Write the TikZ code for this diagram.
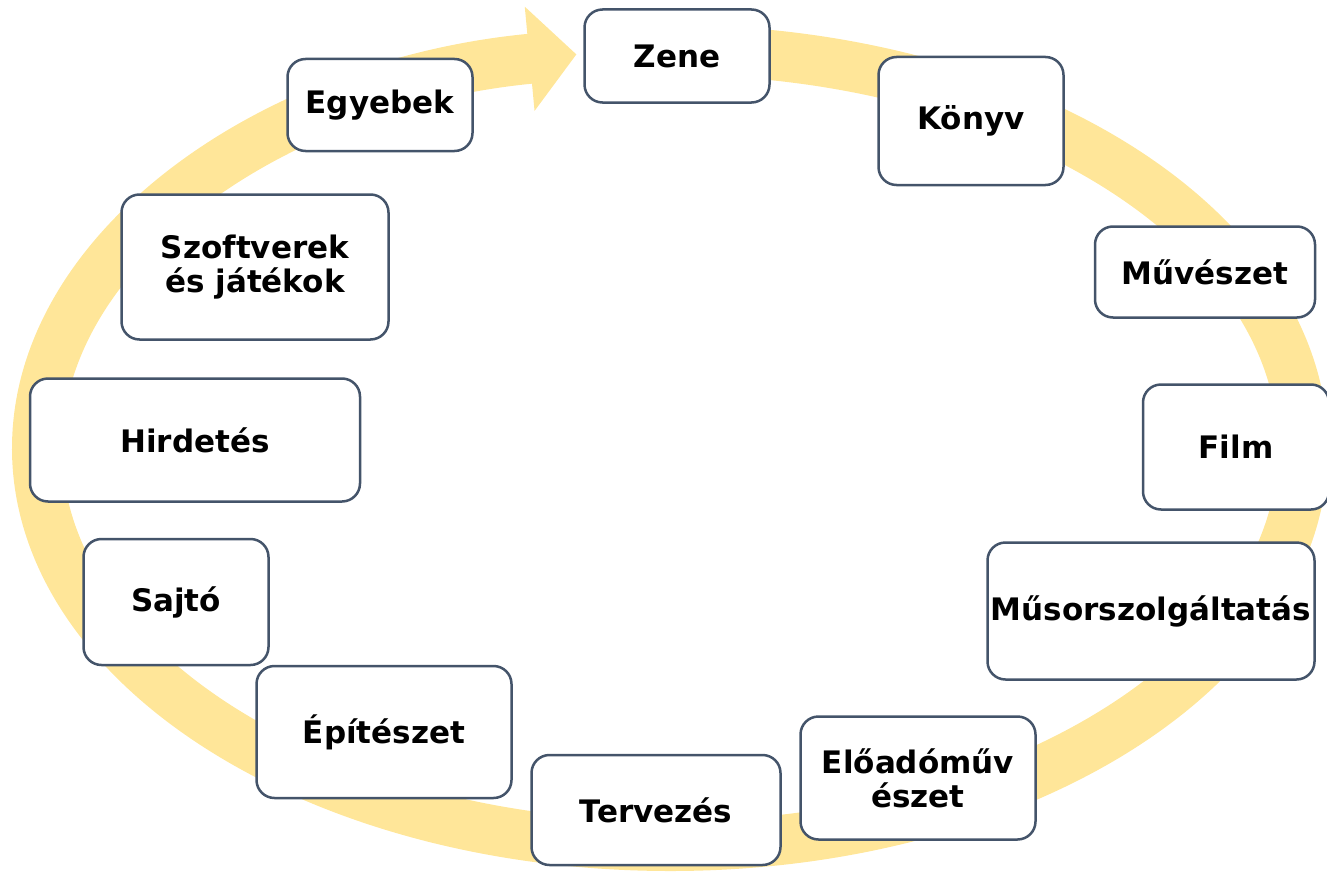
\documentclass[tikz,border=0pt]{standalone}
\usepackage{fontspec}
\setmainfont{DejaVu Sans}
\usetikzlibrary{arrows.meta}

\definecolor{ringyellow}{HTML}{FFE699}
\definecolor{boxline}{HTML}{44546A}

\tikzset{
  tile/.style={draw=boxline, line width=2.5pt, rounded corners=18pt, fill=white,
    inner sep=0pt, align=center, font=\fontsize{31}{34}\selectfont\bfseries},
  ring/.style={draw=ringyellow, line width=50pt},
}

\begin{document}
\begin{tikzpicture}[x=1pt, y=-1pt]

% GLOBAL SETTINGS
\newcommand{\cxring}{670}
\newcommand{\cyring}{448}
\newcommand{\rxring}{633}
\newcommand{\ryring}{398}

\useasboundingbox (0,0) rectangle (1327,875);

% RING
\draw[ring, -{Triangle[length=47pt, width=102pt]}]
  (\cxring,\cyring) ++(-88:\rxring\space and \ryring)
  arc[start angle=-88, end angle=261.5, x radius=\rxring, y radius=\ryring];

% BOXES
\foreach \nm/\cx/\cy/\w/\h/\txt in {
  zene/677/56/185/93/{Zene},
  konyv/971/121/185/128/{Könyv},
  muveszet/1205/272/220/91/{Művészet},
  film/1236/447/186/125/{Film},
  musor/1151/611/327/137/{Műsorszolgáltatás},
  eloado/918/778/235/123/{Előadóműv\\észet},
  tervezes/656/810/249/110/{Tervezés},
  epiteszet/384/732/255/132/{Építészet},
  sajto/176/602/185/126/{Sajtó},
  hirdetes/195/440/330/123/{Hirdetés},
  szoftver/255/267/267/145/{Szoftverek\\és játékok},
  egyebek/380/105/185/92/{Egyebek}} {
  \node[tile, minimum width=\w pt, minimum height=\h pt] (\nm) at (\cx,\cy) {\txt};
}

\end{tikzpicture}
\end{document}
